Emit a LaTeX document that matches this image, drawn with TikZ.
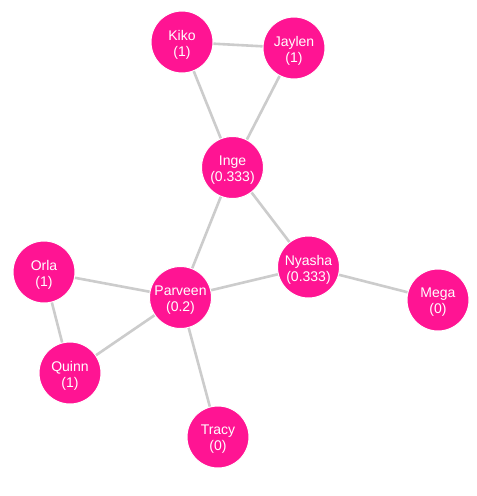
\documentclass[tikz,border=0pt]{standalone}
\usepackage{fontspec}
\setmainfont{Liberation Sans}
\definecolor{nodepink}{HTML}{FF1493}
\definecolor{edgegray}{HTML}{CCCCCC}
\begin{document}
\begin{tikzpicture}[x=1pt,y=-1pt,
  vtx/.style={circle,fill=nodepink,draw=white,line width=1pt,minimum size=62pt,inner sep=0pt},
  lbl/.style={text=white,font=\fontsize{14}{16}\selectfont,align=center,inner sep=0pt,yshift=-2.5pt},
  lnk/.style={draw=edgegray,line width=2.6pt}]
\useasboundingbox (0,0) rectangle (477,496);
\fill[white] (0,0) rectangle (477,496);
\node[vtx,label={[lbl]center:Kiko\\(1)}] (kiko) at (182,42) {};
\node[vtx,label={[lbl]center:Jaylen\\(1)}] (jaylen) at (294,48) {};
\node[vtx,label={[lbl]center:Inge\\(0.333)}] (inge) at (232.5,167.5) {};
\node[vtx,label={[lbl]center:Nyasha\\(0.333)}] (nyasha) at (308.5,267) {};
\node[vtx,label={[lbl]center:Mega\\(0)}] (mega) at (438,300) {};
\node[vtx,label={[lbl]center:Parveen\\(0.2)}] (parveen) at (180.5,297.5) {};
\node[vtx,label={[lbl]center:Orla\\(1)}] (orla) at (44,272) {};
\node[vtx,label={[lbl]center:Quinn\\(1)}] (quinn) at (70,373) {};
\node[vtx,label={[lbl]center:Tracy\\(0)}] (tracy) at (218,437) {};
\path[lnk] (kiko) -- (jaylen);
\path[lnk] (kiko) -- (inge);
\path[lnk] (jaylen) -- (inge);
\path[lnk] (inge) -- (parveen);
\path[lnk] (inge) -- (nyasha);
\path[lnk] (nyasha) -- (mega);
\path[lnk] (nyasha) -- (parveen);
\path[lnk] (parveen) -- (orla);
\path[lnk] (parveen) -- (quinn);
\path[lnk] (orla) -- (quinn);
\path[lnk] (parveen) -- (tracy);
\end{tikzpicture}
\end{document}
